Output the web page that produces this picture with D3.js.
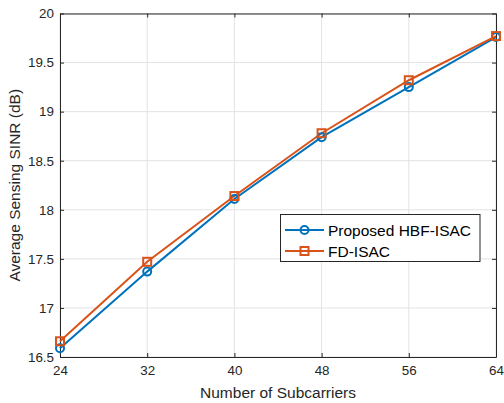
<!DOCTYPE html>
<html><head><meta charset="utf-8">
<script src="https://cdn.jsdelivr.net/npm/d3@7"></script>
<style>body{margin:0;background:#fff;} text{font-family:"Liberation Sans",Arial,sans-serif;}</style>
</head><body>
<svg id="c" width="504" height="403"></svg>
<script>
const subcarriers = [24, 32, 40, 48, 56, 64];
const proposedHBF = [16.59, 17.37, 18.11, 18.74, 19.25, 19.76];
const fdISAC = [16.66, 17.47, 18.14, 18.78, 19.32, 19.77];
const yTicks = [16.5, 17, 17.5, 18, 18.5, 19, 19.5, 20];
const seriesNames = ["Proposed HBF-ISAC", "FD-ISAC"];

const svg = d3.select("#c");
const L = 60, R = 496, T = 13.5, B = 357;
const x = d3.scaleLinear().domain([24, 64]).range([L, R]);
const y = d3.scaleLinear().domain([16.5, 20]).range([B, T]);

// grid
svg.append("g").selectAll("line.gx").data(subcarriers).join("line")
  .attr("x1", d => x(d)).attr("x2", d => x(d)).attr("y1", T).attr("y2", B)
  .attr("stroke", "#e3e3e3").attr("stroke-width", 1);
svg.append("g").selectAll("line.gy").data(yTicks).join("line")
  .attr("y1", d => y(d)).attr("y2", d => y(d)).attr("x1", L).attr("x2", R)
  .attr("stroke", "#e3e3e3").attr("stroke-width", 1);

// axes
const xa = svg.append("g").attr("transform", `translate(0,${B})`)
  .call(d3.axisBottom(x).tickValues(subcarriers).tickSizeInner(-4).tickSizeOuter(0).tickPadding(8));
const xt = svg.append("g").attr("transform", `translate(0,${T})`)
  .call(d3.axisTop(x).tickValues(subcarriers).tickSizeInner(-4).tickSizeOuter(0).tickFormat(""));
const ya = svg.append("g").attr("transform", `translate(${L},0)`)
  .call(d3.axisLeft(y).tickValues(yTicks).tickSizeInner(-4).tickSizeOuter(0).tickPadding(6).tickFormat(d3.format("")));
const yr = svg.append("g").attr("transform", `translate(${R},0)`)
  .call(d3.axisRight(y).tickValues(yTicks).tickSizeInner(-4).tickSizeOuter(0).tickFormat(""));
[xa, xt, ya, yr].forEach(g => {
  g.attr("font-size", null);
  g.selectAll("path").attr("stroke", "#262626").attr("stroke-width", 1);
  g.selectAll("line").attr("stroke", "#262626");
  g.selectAll("text").attr("fill", "#262626").style("font-size", "13.4px");
});

// labels
svg.append("text").attr("x", 278).attr("y", 398).attr("text-anchor", "middle")
  .style("font-size", "15.5px").attr("fill", "#262626").text("Number of Subcarriers");
svg.append("text").attr("transform", `translate(20,${(T + B) / 2}) rotate(-90)`)
  .attr("text-anchor", "middle").style("font-size", "15.5px").attr("fill", "#262626")
  .text("Average Sensing SINR (dB)");

const colors = ["#0072BD", "#D95319"];
const line = d3.line().x((d, i) => x(subcarriers[i])).y(d => y(d));
const data = [proposedHBF, fdISAC];

data.forEach((s, k) => {
  svg.append("path").datum(s).attr("d", line).attr("fill", "none")
    .attr("stroke", colors[k]).attr("stroke-width", 2);
});
function marker(g, k, cx, cy) {
  if (k === 0) {
    g.append("circle").attr("cx", cx).attr("cy", cy).attr("r", 4)
      .attr("fill", "none").attr("stroke", colors[0]).attr("stroke-width", 2);
  } else {
    g.append("rect").attr("x", cx - 4).attr("y", cy - 4).attr("width", 8).attr("height", 8)
      .attr("fill", "none").attr("stroke", colors[1]).attr("stroke-width", 2);
  }
}
data.forEach((s, k) => {
  const g = svg.append("g");
  s.forEach((v, i) => marker(g, k, x(subcarriers[i]), y(v)));
});

// legend
const lg = svg.append("g");
lg.append("rect").attr("x", 280.5).attr("y", 214.5).attr("width", 199.5).attr("height", 47)
  .attr("fill", "#fff").attr("stroke", "#262626").attr("stroke-width", 1);
seriesNames.forEach((n, k) => {
  const yy = 230 + k * 21;
  lg.append("line").attr("x1", 285).attr("x2", 324).attr("y1", yy).attr("y2", yy)
    .attr("stroke", colors[k]).attr("stroke-width", 2);
  marker(lg, k, 304.5, yy);
  lg.append("text").attr("x", 328).attr("y", yy + 5.5).style("font-size", "15.5px")
    .attr("fill", "#000").text(n);
});
</script>
</body></html>
